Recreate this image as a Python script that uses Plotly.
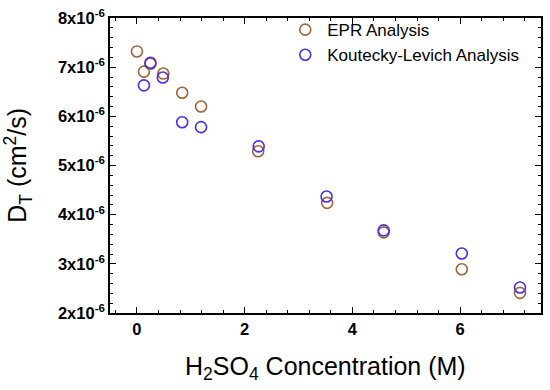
import plotly.graph_objects as go

epr_x = [0.0, 0.13, 0.25, 0.49, 0.84, 1.19, 2.25, 3.53, 4.58, 6.03, 7.11]
epr_y = [7.32e-6, 6.91e-6, 7.07e-6, 6.87e-6, 6.48e-6, 6.20e-6, 5.29e-6, 4.24e-6, 3.64e-6, 2.89e-6, 2.41e-6]
kl_x = [0.13, 0.25, 0.48, 0.84, 1.19, 2.26, 3.52, 4.58, 6.03, 7.11]
kl_y = [6.63e-6, 7.09e-6, 6.79e-6, 5.88e-6, 5.78e-6, 5.39e-6, 4.37e-6, 3.68e-6, 3.21e-6, 2.52e-6]

y_tickvals = [2e-6, 3e-6, 4e-6, 5e-6, 6e-6, 7e-6, 8e-6]
y_ticktext = ["<b>%dx10<sup>-6</sup></b>" % v for v in [2, 3, 4, 5, 6, 7, 8]]
x_tickvals = [0, 2, 4, 6]
x_ticktext = ["<b>%d</b>" % v for v in x_tickvals]

brown = "#a0663a"
blue = "#4b2ee6"

fig = go.Figure()
fig.add_trace(go.Scatter(x=epr_x, y=epr_y, mode="markers", name="EPR Analysis",
                         marker=dict(symbol="circle-open", size=11, color=brown, line=dict(width=1.6, color=brown))))
fig.add_trace(go.Scatter(x=kl_x, y=kl_y, mode="markers", name="Koutecky-Levich Analysis",
                         marker=dict(symbol="circle-open", size=11, color=blue, line=dict(width=1.6, color=blue))))

axis_common = dict(showline=True, linecolor="black", linewidth=1.5, mirror="ticks",
                   ticks="inside", ticklen=6, tickwidth=1.2, tickcolor="black",
                   showgrid=False, zeroline=False, ticklabeloverflow="allow",
                   tickfont=dict(family="Liberation Sans, Arial", size=16.5, color="black"))

fig.update_layout(
    width=550, height=390,
    margin=dict(l=110, r=7, t=10, b=77),
    paper_bgcolor="white", plot_bgcolor="white",
    font=dict(family="Liberation Sans, Arial", color="black"),
    xaxis=dict(range=[-0.5, 7.5], tickvals=x_tickvals, ticktext=x_ticktext,
               minor=dict(dtick=0.4, tick0=0, ticks="inside", ticklen=3, tickcolor="black", tickwidth=1),
               **axis_common),
    yaxis=dict(range=[1.9999e-6, 8.0001e-6], tickvals=y_tickvals, ticktext=y_ticktext,
               minor=dict(dtick=2e-7, tick0=0, ticks="inside", ticklen=3, tickcolor="black", tickwidth=1),
               **axis_common),
    legend=dict(x=0.402, y=1.02, xanchor="left", yanchor="top", bgcolor="rgba(0,0,0,0)",
                font=dict(family="Liberation Sans, Arial", size=17, color="black"),
                tracegroupgap=0, itemwidth=34),
    showlegend=True,
    annotations=[
        dict(text="H<sub>2</sub>SO<sub>4</sub> Concentration (M)", xref="paper", yref="paper",
             x=0.5, y=-0.125, xanchor="center", yanchor="top", showarrow=False,
             font=dict(family="Liberation Sans, Arial", size=25, color="black")),
        dict(text="D<sub>T</sub> (cm<sup>2</sup>/s)", xref="paper", yref="paper",
             x=-0.215, y=0.5, xanchor="center", yanchor="middle", showarrow=False, textangle=-90,
             font=dict(family="Liberation Sans, Arial", size=25, color="black")),
    ],
)

fig.write_html("out.html", config={"displayModeBar": False},
               post_script="document.body.style.margin='0';")
